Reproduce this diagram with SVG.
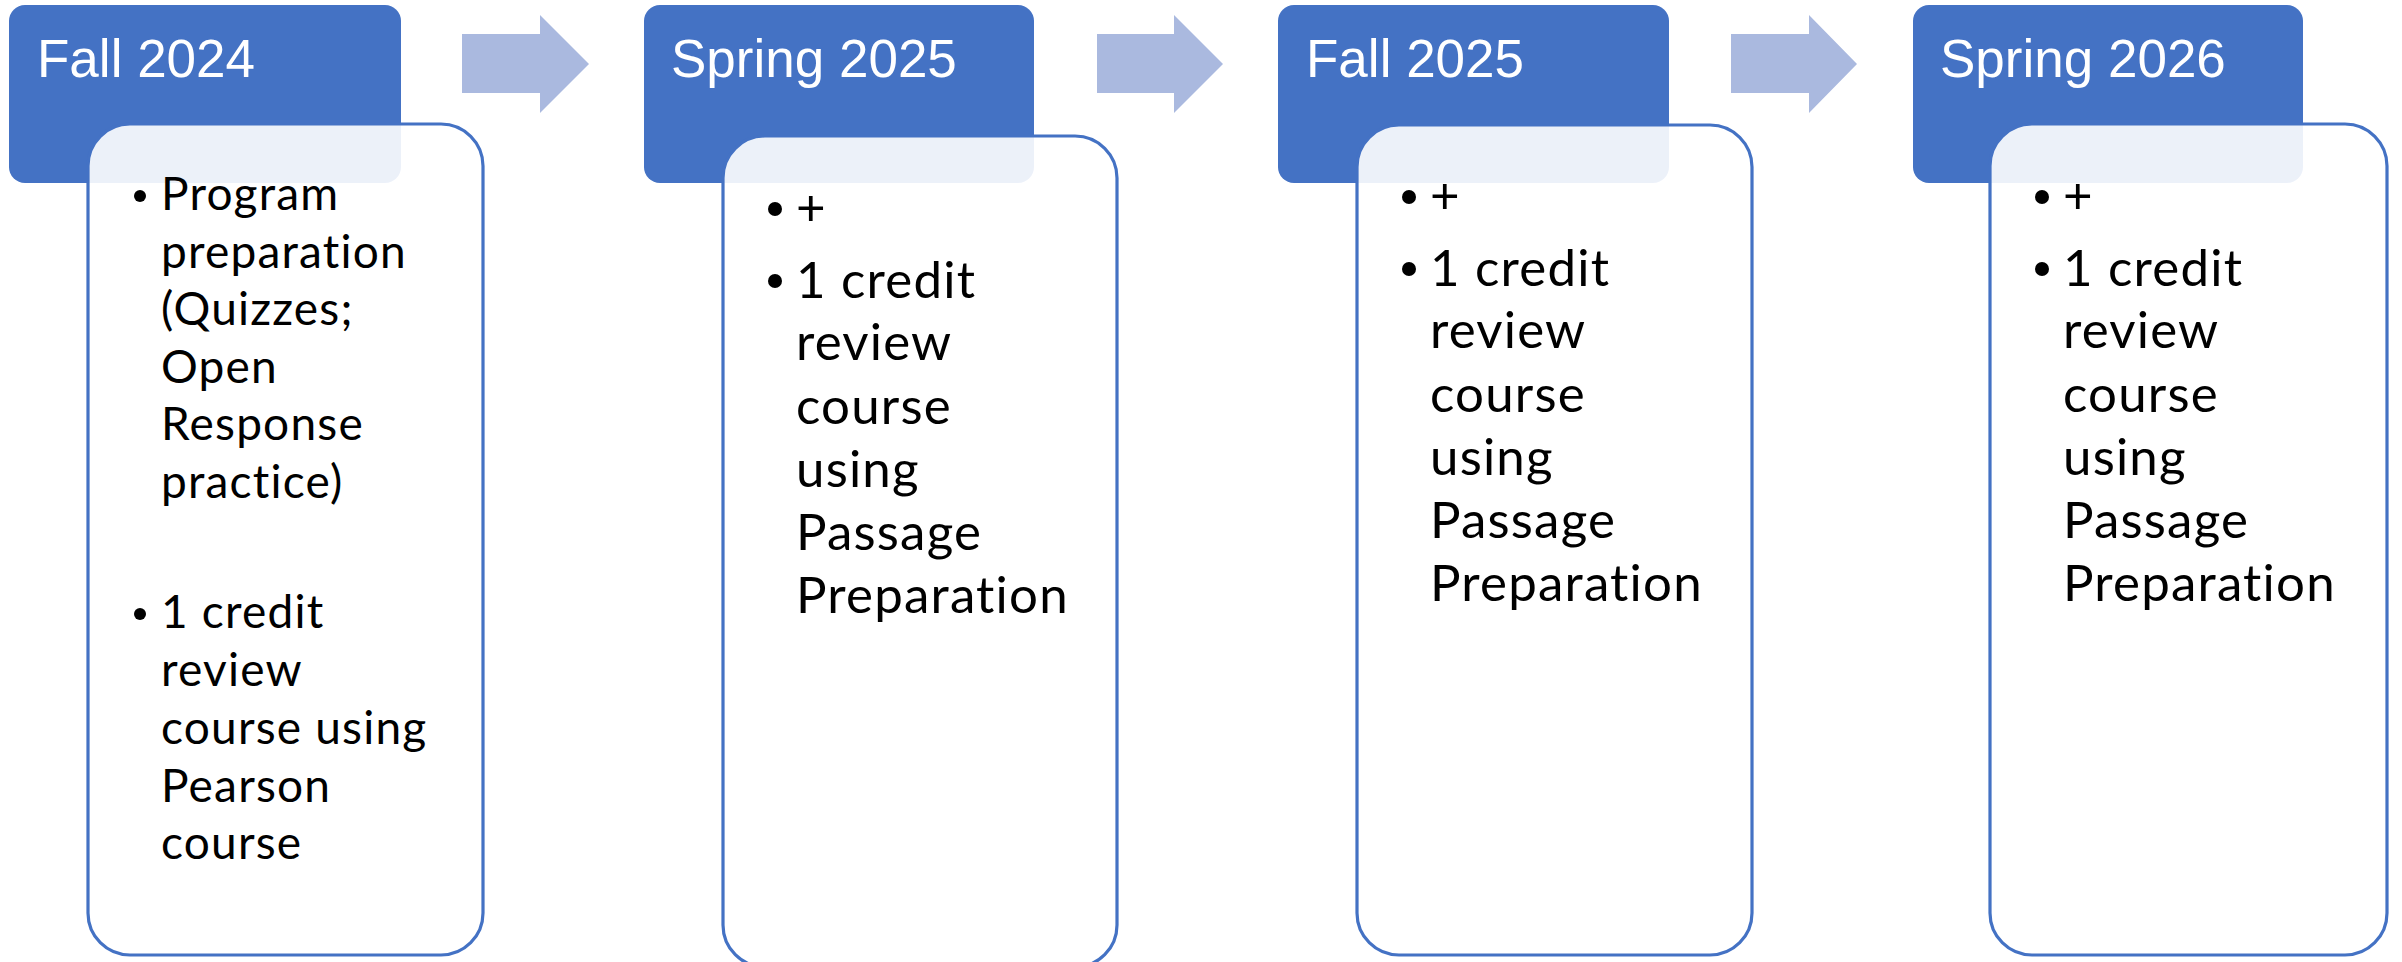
<svg xmlns="http://www.w3.org/2000/svg" width="2402" height="962" viewBox="0 0 2402 962">
<style>
.hdr{fill:#4472C4}
.hdrtxt{fill:#FFFFFF;font-family:"Liberation Sans",Arial,sans-serif;font-size:53px}
.box{fill:#FFFFFF;fill-opacity:0.9;stroke:#4472C4;stroke-width:3.2}
.arrow{fill:#AAB9DF}
.body{fill:#000000;font-family:Lato,"Open Sans",sans-serif}
.b1{font-size:46px;letter-spacing:1.2px}
.b2{font-size:51px;letter-spacing:1.2px}
.dot{fill:#000000}
</style>
<g id="connectors">
<polygon class="arrow" points="462,34 540,34 540,15 589,64 540,113 540,93 462,93"/>
<polygon class="arrow" points="1097,34 1174,34 1174,15 1223,64 1174,113 1174,93 1097,93"/>
<polygon class="arrow" points="1731,34 1809,34 1809,15 1857,64 1809,113 1809,93 1731,93"/>
</g>
<g id="node-fall-2024">
<rect class="hdr" x="9" y="5" width="392" height="178" rx="16"/>
<text class="hdrtxt" x="37" y="77">Fall 2024</text>
<rect class="box" x="88" y="124" width="395" height="831" rx="42"/>
<circle class="dot" cx="140" cy="196" r="6"/>
<text class="body b1" x="161"><tspan x="161" y="210">Program</tspan><tspan x="161" y="267.5">preparation</tspan><tspan x="161" y="325">(Quizzes;</tspan><tspan x="161" y="382.5">Open</tspan><tspan x="161" y="440">Response</tspan><tspan x="161" y="497.5">practice)</tspan></text>
<circle class="dot" cx="140" cy="614" r="6"/>
<text class="body b1" x="161"><tspan x="161" y="628">1 credit</tspan><tspan x="161" y="686">review</tspan><tspan x="161" y="744">course using</tspan><tspan x="161" y="802">Pearson</tspan><tspan x="161" y="859">course</tspan></text>
</g>
<g id="node-spring-2025">
<rect class="hdr" x="644" y="5" width="390" height="178" rx="16"/>
<text class="hdrtxt" x="671" y="77">Spring 2025</text>
<rect class="box" x="723" y="136" width="394" height="831" rx="42"/>
<circle class="dot" cx="775" cy="209" r="7"/>
<text class="body b2" x="796" y="225">+</text>
<circle class="dot" cx="775" cy="281" r="7"/>
<text class="body b2" x="796"><tspan x="796" y="298">1 credit</tspan><tspan x="796" y="360">review</tspan><tspan x="796" y="424">course</tspan><tspan x="796" y="487">using</tspan><tspan x="796" y="550">Passage</tspan><tspan x="796" y="613">Preparation</tspan></text>
</g>
<g id="node-fall-2025">
<rect class="hdr" x="1278" y="5" width="391" height="178" rx="16"/>
<text class="hdrtxt" x="1306" y="77">Fall 2025</text>
<rect class="box" x="1357" y="125" width="395" height="830" rx="42"/>
<circle class="dot" cx="1409" cy="197" r="7"/>
<text class="body b2" x="1430" y="213">+</text>
<circle class="dot" cx="1409" cy="269" r="7"/>
<text class="body b2" x="1430"><tspan x="1430" y="286">1 credit</tspan><tspan x="1430" y="348">review</tspan><tspan x="1430" y="412">course</tspan><tspan x="1430" y="475">using</tspan><tspan x="1430" y="538">Passage</tspan><tspan x="1430" y="601">Preparation</tspan></text>
</g>
<g id="node-spring-2026">
<rect class="hdr" x="1913" y="5" width="390" height="178" rx="16"/>
<text class="hdrtxt" x="1940" y="77">Spring 2026</text>
<rect class="box" x="1990" y="124" width="397" height="831" rx="42"/>
<circle class="dot" cx="2042" cy="197" r="7"/>
<text class="body b2" x="2063" y="213">+</text>
<circle class="dot" cx="2042" cy="269" r="7"/>
<text class="body b2" x="2063"><tspan x="2063" y="286">1 credit</tspan><tspan x="2063" y="348">review</tspan><tspan x="2063" y="412">course</tspan><tspan x="2063" y="475">using</tspan><tspan x="2063" y="538">Passage</tspan><tspan x="2063" y="601">Preparation</tspan></text>
</g>
</svg>
